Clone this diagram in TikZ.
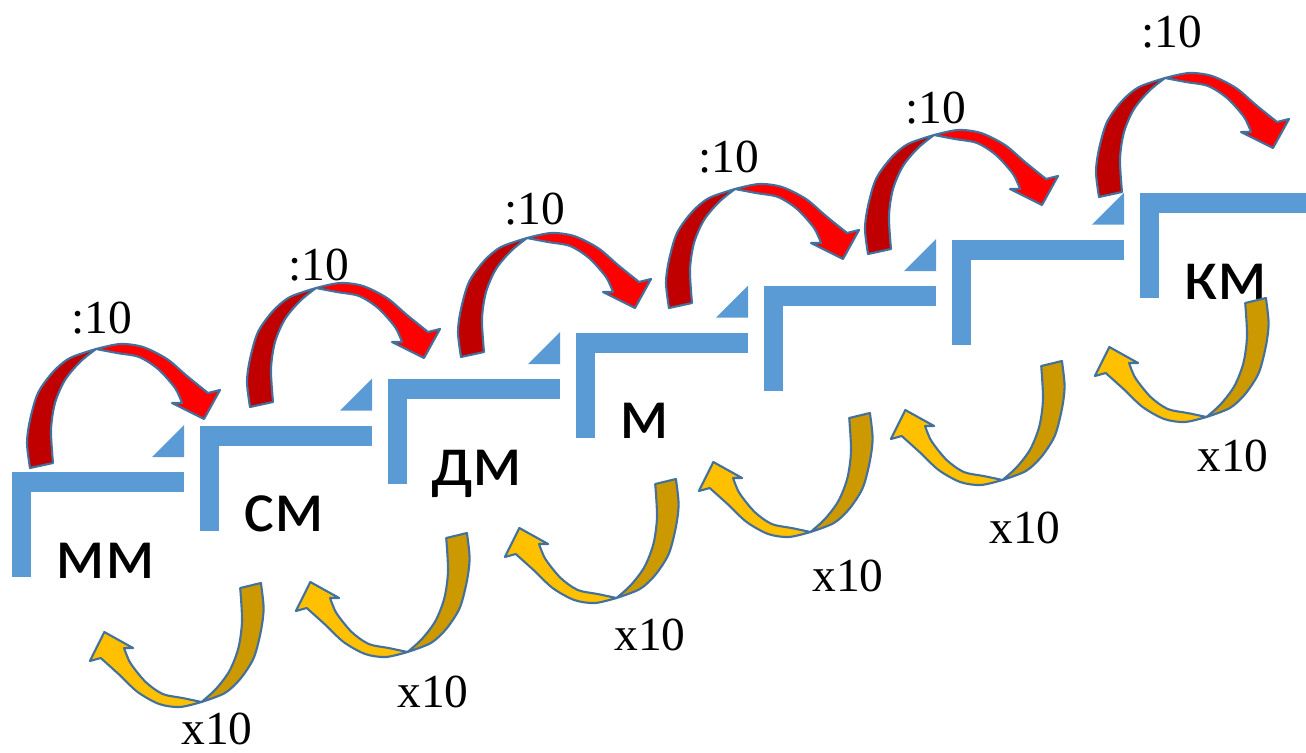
\documentclass[tikz,border=0pt]{standalone}
\usepackage{fontspec}
\setmainfont{Liberation Serif}
\newfontfamily\unitfont{Carlito}

\definecolor{stepblue}{HTML}{5B9BD5}
\definecolor{redback}{HTML}{C00000}
\definecolor{redfront}{HTML}{FF0000}
\definecolor{goldback}{HTML}{CC9900}
\definecolor{goldfront}{HTML}{FFC000}
\definecolor{rim}{HTML}{41719C}

% one step: L-shaped bar with a small wedge above its right end
\newcommand{\stair}[2]{%
  \fill[stepblue] (#1,#2) rectangle +(19,105);
  \fill[stepblue] (#1,#2) rectangle +(172,20);
  \fill[stepblue] (#1,#2) ++(140,-15) -- ++(32,0) -- ++(0,-32) -- cycle;
}

% twisted curved arrow, drawn from its tail at (0,0)
\newcommand{\turnarrow}[2]{%
  \filldraw[fill=#1,draw=rim,line width=0.6pt,line join=round]
    plot[smooth] coordinates {(-11,2) (-14,-23) (-11,-46) (-3,-73) (12,-94) (29,-108) (55,-117)}
    -- plot[smooth] coordinates {(55,-117) (39,-104) (24,-86) (14,-63) (10,-36) (12,-3)} -- cycle;
  \filldraw[fill=#2,draw=rim,line width=0.6pt,line join=round]
    plot[smooth] coordinates {(55,-117) (79,-122) (102,-119) (126,-107) (146,-90) (167,-73)}
    -- (179,-76) -- (163,-47) -- (131,-63) -- (141,-63)
    -- plot[smooth] coordinates {(141,-63) (134,-78) (117,-97) (98,-109) (76,-113) (55,-117)} -- cycle;
}

\begin{document}
\begin{tikzpicture}[x=0.1mm,y=-0.1mm]
    \tikzstyle{unit}=[font=\unitfont\fontsize{21}{24}\selectfont,anchor=base west,inner sep=0pt];
    \tikzstyle{factor}=[font=\fontsize{13.5}{16}\selectfont,inner sep=0pt];
    \useasboundingbox (0,0) rectangle (1306,752);

    % steps
    \stair{12}{472}
    \stair{200}{425.5}
    \stair{388}{379}
    \stair{576}{332.5}
    \stair{764}{286}
    \stair{952}{239.5}
    \fill[stepblue] (1140,193) rectangle +(19,105);
    \fill[stepblue] (1140,193) rectangle (1306,213);

    \node[unit] (mm) at (55,578) {мм};
    \node[unit] (cm) at (243,531.5) {см};
    \node[unit] (dm) at (431,485) {дм};
    \node[unit] (m) at (619,438.5) {м};
    \node[unit] (km) at (1183,299) {км};

    % tails of the arrows
    \coordinate (d1) at (41,466);
    \coordinate (d2) at (261,405);
    \coordinate (d3) at (472,355);
    \coordinate (d4) at (680,306);
    \coordinate (d5) at (879,252);
    \coordinate (d6) at (1110,195);
    \coordinate (u1) at (251,585);
    \coordinate (u2) at (457,535);
    \coordinate (u3) at (666,481);
    \coordinate (u4) at (860,415);
    \coordinate (u5) at (1052,363);
    \coordinate (u6) at (1256,300);

    \foreach \i in {1,...,6} {
        \begin{scope}[shift={(d\i)}]
            \turnarrow{redback}{redfront}
        \end{scope}
        \begin{scope}[shift={(u\i)},rotate=180,xscale=0.9]
            \turnarrow{goldback}{goldfront}
        \end{scope}
    }

    \node[factor] (div1) at (102,318) {:10};
    \node[factor] (div2) at (319,265) {:10};
    \node[factor] (div3) at (535,209) {:10};
    \node[factor] (div4) at (729,157) {:10};
    \node[factor] (div5) at (936,108) {:10};
    \node[factor] (div6) at (1172,32) {:10};

    \node[factor] (mul1) at (217,729) {x10};
    \node[factor] (mul2) at (433,692) {x10};
    \node[factor] (mul3) at (650,635) {x10};
    \node[factor] (mul4) at (848,576) {x10};
    \node[factor] (mul5) at (1025,528) {x10};
    \node[factor] (mul6) at (1233,456) {x10};
\end{tikzpicture}
\end{document}
